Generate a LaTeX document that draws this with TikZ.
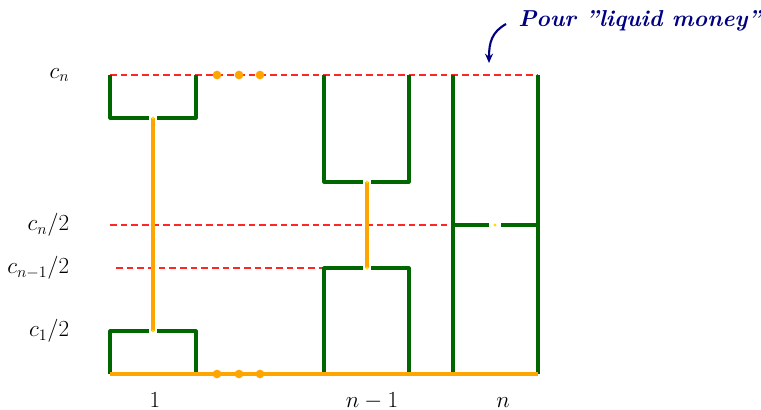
\documentclass[tikz,border=0pt]{standalone}
\usepackage{amsmath}
\usepackage{tikz}
\usetikzlibrary{arrows.meta,positioning}
\definecolor{gold}{RGB}{255,165,0}

\begin{document}
\begin{tikzpicture}[
  x=0.75pt, y=-0.75pt,
  wall/.style={draw=green!40!black, line width=2.3pt, line join=round},
  flow/.style={draw=gold, line width=2.3pt},
  lvl/.style={draw=red!85, line width=1.1pt, dash pattern=on 5pt off 3pt},
  dot/.style={circle, fill=gold, inner sep=0pt, minimum size=6.5pt},
  tap/.style={circle, fill=yellow!80!orange, inner sep=0pt, minimum size=2.6pt},
  lvllab/.style={anchor=east, font=\LARGE},
  binlab/.style={anchor=base, inner sep=0pt, font=\LARGE},
  note/.style={anchor=west, inner sep=0pt, font=\LARGE\bfseries\itshape, text=blue!50!black},
  ann/.style={-{Stealth[length=7pt,width=6pt]}, line width=1.6pt, blue!50!black}
]
  \useasboundingbox (0,0) rectangle (761,410);

  % niveaux
  \coordinate (top0) at (110,75);   \coordinate (top1) at (538,75);
  \coordinate (half0) at (110,225); \coordinate (half1) at (453,225);
  \coordinate (prev0) at (116,268); \coordinate (prev1) at (324,268);
  \draw[lvl] (top0) -- (top1);
  \draw[lvl] (half0) -- (half1);
  \draw[lvl] (prev0) -- (prev1);

  \node[lvllab] (cn)    at (74,75)  {$c_n$};
  \node[lvllab] (cnh)   at (74,225) {$c_n/2$};
  \node[lvllab] (cnmh)  at (74,268) {$c_{n-1}/2$};
  \node[lvllab] (c1h)   at (74,331) {$c_1/2$};

  % bac 1
  \draw[wall] (110,75) -- (110,118) -- (149,118);
  \draw[wall] (157,118) -- (196,118) -- (196,75);
  \draw[wall] (110,374) -- (110,331) -- (149,331);
  \draw[wall] (157,331) -- (196,331) -- (196,374);
  \draw[flow] (153,118) -- (153,331);
  \node[tap] (t1a) at (153,118) {};
  \node[tap] (t1b) at (153,331) {};

  % bac n-1
  \draw[wall] (324,75) -- (324,182) -- (363,182);
  \draw[wall] (371,182) -- (409,182) -- (409,75);
  \draw[wall] (324,374) -- (324,268) -- (363,268);
  \draw[wall] (371,268) -- (409,268) -- (409,374);
  \draw[flow] (367,182) -- (367,268);
  \node[tap] (t2a) at (367,182) {};
  \node[tap] (t2b) at (367,268) {};

  % bac n
  \draw[wall] (453,75) -- (453,374);
  \draw[wall] (538,75) -- (538,374);
  \draw[wall] (453,225) -- (489,225);
  \draw[wall] (501,225) -- (538,225);
  \node[tap] (t3) at (495,225) {};

  % fond
  \coordinate (bot0) at (110,374); \coordinate (bot1) at (538,374);
  \draw[flow] (bot0) -- (bot1);

  \foreach \x in {217,239,260} {
    \node[dot] at (\x,75) {};
    \node[dot] at (\x,374) {};
  }

  \node[binlab] (b1)  at (155,407) {$1$};
  \node[binlab] (bn1) at (372,407) {$n-1$};
  \node[binlab] (bn)  at (503,407) {$n$};

  \node[note] (liq) at (518,21) {Pour \textquotedblright liquid money\textquotedblright};
  \coordinate (tip) at (489,63);
  \draw[ann] (liq.west) ++(-12,3) .. controls (492,32) and (489,42) .. (tip);
\end{tikzpicture}
\end{document}
